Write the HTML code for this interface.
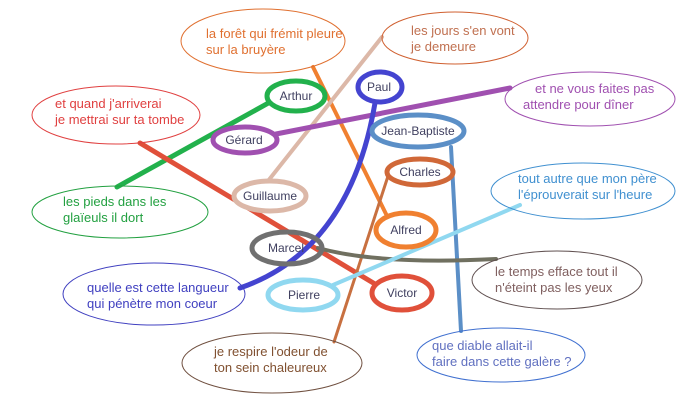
<!DOCTYPE html>
<html><head><meta charset="utf-8"><style>
body{margin:0;background:#fff}
svg text{font-family:"Liberation Sans",sans-serif;font-size:12px}
svg text.s{font-size:13px}
</style></head><body>
<svg width="686" height="405" viewBox="0 0 686 405" xmlns="http://www.w3.org/2000/svg">
<g fill="none" stroke-linecap="round">
<line x1="117" y1="187" x2="272" y2="101" stroke="#22b14c" stroke-width="5"/>
<path d="M140 143 L380 287" stroke="#e0503a" stroke-width="5"/>
<line x1="313" y1="67" x2="387" y2="216" stroke="#f08030" stroke-width="4"/>
<line x1="382" y1="37" x2="268" y2="181" stroke="#dcb8a8" stroke-width="4"/>
<path d="M276 134 L510 88" stroke="#a050b0" stroke-width="5"/>
<path d="M375 103 Q350 250 240 288" stroke="#4444d0" stroke-width="5"/>
<line x1="451" y1="147" x2="461" y2="331" stroke="#5b8fc7" stroke-width="4"/>
<line x1="390" y1="170" x2="334" y2="342" stroke="#c87040" stroke-width="3"/>
<path d="M318 248 Q380 265 496 259" stroke="#707060" stroke-width="4"/>
<line x1="333" y1="285" x2="520" y2="205" stroke="#90d8f0" stroke-width="4"/>
<ellipse cx="263" cy="41" rx="82" ry="32" stroke="#e07030" stroke-width="1"/>
<ellipse cx="455" cy="38" rx="73" ry="26" stroke="#d06030" stroke-width="1"/>
<ellipse cx="116" cy="115" rx="84" ry="29" stroke="#e04040" stroke-width="1"/>
<ellipse cx="590" cy="99" rx="85" ry="27" stroke="#a050b0" stroke-width="1"/>
<ellipse cx="120" cy="212" rx="88" ry="26" stroke="#22a040" stroke-width="1"/>
<ellipse cx="583" cy="191" rx="92" ry="28" stroke="#4090d0" stroke-width="1"/>
<ellipse cx="154" cy="294" rx="91" ry="31" stroke="#4040c0" stroke-width="1"/>
<ellipse cx="557" cy="280" rx="85" ry="29" stroke="#605050" stroke-width="1"/>
<ellipse cx="272" cy="363" rx="90" ry="30" stroke="#705040" stroke-width="1"/>
<ellipse cx="501" cy="355" rx="84" ry="27" stroke="#4070d0" stroke-width="1"/>
<ellipse cx="296" cy="96" rx="29" ry="15" stroke="#22b14c" stroke-width="5" fill="#fff"/>
<ellipse cx="380" cy="87" rx="22" ry="15" stroke="#4444d0" stroke-width="5" fill="#fff"/>
<ellipse cx="245" cy="140" rx="32" ry="13" stroke="#a050b0" stroke-width="5" fill="#fff"/>
<ellipse cx="418" cy="131" rx="46" ry="16" stroke="#5b8fc7" stroke-width="5" fill="#fff"/>
<ellipse cx="420" cy="172" rx="33" ry="13" stroke="#d06838" stroke-width="5" fill="#fff"/>
<ellipse cx="270" cy="196" rx="36" ry="15" stroke="#dcb8a8" stroke-width="5" fill="#fff"/>
<ellipse cx="406" cy="230" rx="30" ry="17" stroke="#f08030" stroke-width="5" fill="#fff"/>
<ellipse cx="287" cy="248" rx="35" ry="16" stroke="#707070" stroke-width="5"/>
<ellipse cx="303" cy="295" rx="35" ry="15" stroke="#90d8f0" stroke-width="5" fill="#fff"/>
<ellipse cx="402" cy="293" rx="30" ry="17" stroke="#e0503a" stroke-width="5" fill="#fff"/>
</g>
<g fill="#404060" text-anchor="middle">
<text x="296" y="100">Arthur</text>
<text x="379" y="91">Paul</text>
<text x="244" y="144">Gérard</text>
<text x="418" y="135">Jean-Baptiste</text>
<text x="420" y="176">Charles</text>
<text x="270" y="200">Guillaume</text>
<text x="406" y="234">Alfred</text>
<text x="286" y="252">Marcel</text>
<text x="304" y="299">Pierre</text>
<text x="402" y="297">Victor</text>
</g>
<g>
<text class="s" x="206" y="38" fill="#e07030">la forêt qui frémit pleure</text>
<text class="s" x="206" y="54" fill="#e07030">sur la bruyère</text>
<text class="s" x="411" y="35" fill="#c07050">les jours s'en vont</text>
<text class="s" x="411" y="51" fill="#c07050">je demeure</text>
<text class="s" x="55" y="108" fill="#e04040">et quand j'arriverai</text>
<text class="s" x="55" y="124" fill="#e04040">je mettrai sur ta tombe</text>
<text class="s" x="535" y="93" fill="#a050b0">et ne vous faites pas</text>
<text class="s" x="523" y="109" fill="#a050b0">attendre pour dîner</text>
<text class="s" x="63" y="206" fill="#22a040">les pieds dans les</text>
<text class="s" x="63" y="222" fill="#22a040">glaïeuls il dort</text>
<text class="s" x="518" y="183" fill="#4090d0">tout autre que mon père</text>
<text class="s" x="518" y="199" fill="#4090d0">l'éprouverait sur l'heure</text>
<text class="s" x="87" y="292" fill="#4040c0">quelle est cette langueur</text>
<text class="s" x="87" y="308" fill="#4040c0">qui pénètre mon coeur</text>
<text class="s" x="495" y="276" fill="#806060">le temps efface tout il</text>
<text class="s" x="495" y="292" fill="#806060">n'éteint pas les yeux</text>
<text class="s" x="214" y="356" fill="#805030">je respire l'odeur de</text>
<text class="s" x="214" y="372" fill="#805030">ton sein chaleureux</text>
<text class="s" x="432" y="350" fill="#6070c0">que diable allait-il</text>
<text class="s" x="432" y="366" fill="#6070c0">faire dans cette galère ?</text>
</g>
</svg>
</body></html>
